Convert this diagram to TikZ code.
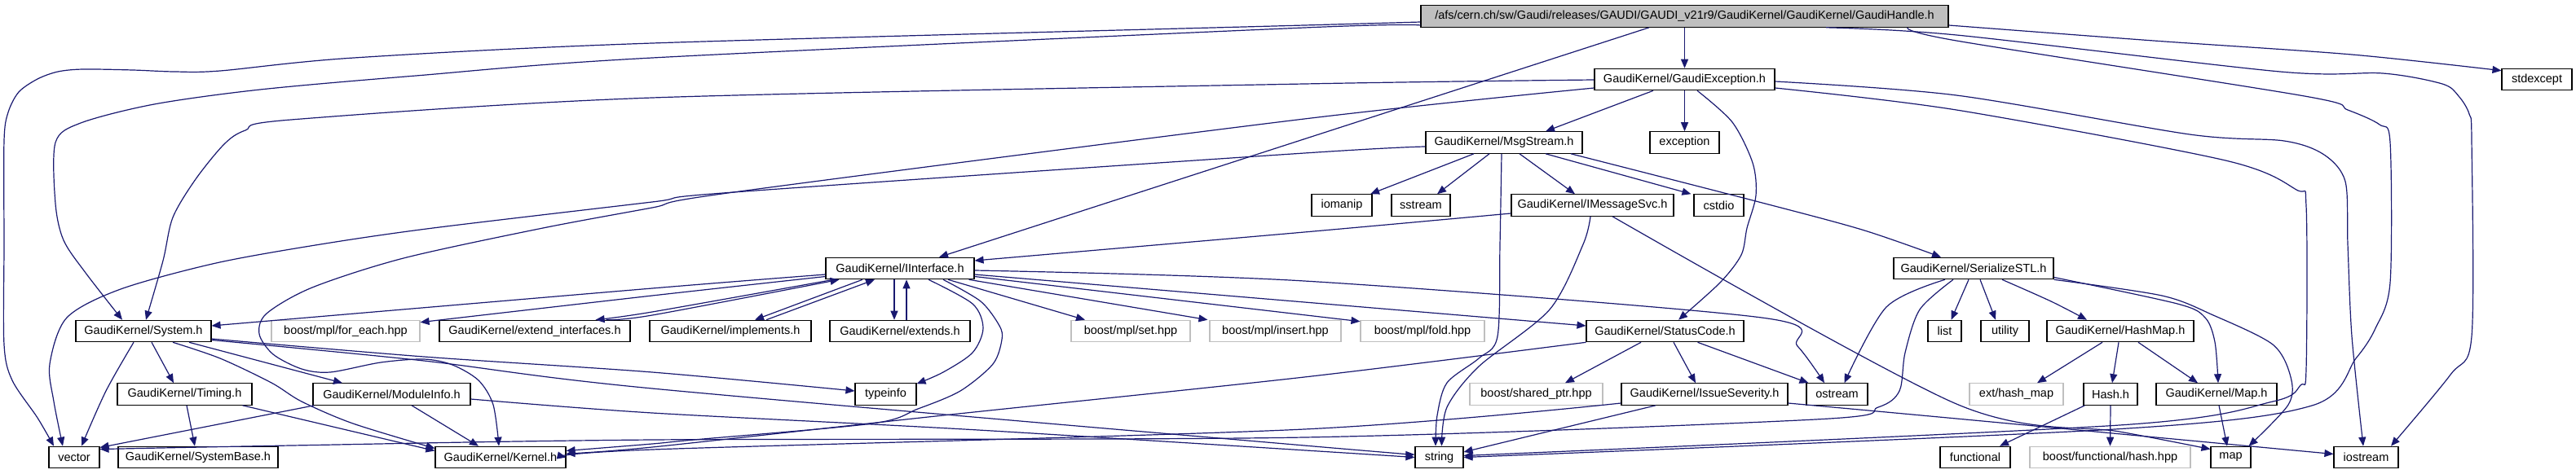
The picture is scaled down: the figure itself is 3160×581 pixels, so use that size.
\documentclass[tikz,border=0pt]{standalone}
\usepackage{fontspec}
\setmainfont{Liberation Sans}
\usetikzlibrary{arrows.meta,calc}
\definecolor{edgeblue}{HTML}{191970}
\definecolor{rootgray}{HTML}{BFBFBF}
\definecolor{lightborder}{HTML}{BFBFBF}
\newcommand\nodefont{\fontsize{14.5}{17}\selectfont}
\newcommand\edgeplot[1]{\draw[edge] plot[smooth,tension=0.5] coordinates {#1};}
\tikzset{
  box/.style={draw=black, line width=1.1pt, fill=white, inner sep=0pt, minimum height=26.5pt, font=\nodefont},
  gbox/.style={box, draw=lightborder},
  rootbox/.style={box, fill=rootgray},
  edge/.style={draw=edgeblue, line width=1.2pt, -{Triangle[length=11pt,width=9pt]}},
}
\begin{document}
\begin{tikzpicture}[x=1pt,y=-1pt]
\useasboundingbox (0,0) rectangle (3160,581);
% row 0
\node[rootbox, minimum width=647pt] (root) at (2066.5,20) {/afs/cern.ch/sw/Gaudi/releases/GAUDI/GAUDI\_v21r9/GaudiKernel/GaudiKernel/GaudiHandle.h};
% row 1
\node[box, minimum width=221pt] (gexc) at (2066.5,97.5) {GaudiKernel/GaudiException.h};
\node[box, minimum width=86pt] (stdexcept) at (3112,97.5) {stdexcept};
% row 2
\node[box, minimum width=192pt] (msg) at (1845,175) {GaudiKernel/MsgStream.h};
\node[box, minimum width=85pt] (exception) at (2066.5,175) {exception};
% row 3
\node[box, minimum width=74pt] (iomanip) at (1646,252) {iomanip};
\node[box, minimum width=72pt] (sstream) at (1743,252) {sstream};
\node[box, minimum width=199pt] (imsg) at (1953.5,252) {GaudiKernel/IMessageSvc.h};
\node[box, minimum width=61pt] (cstdio) at (2108.5,252) {cstdio};
% row 4
\node[box, minimum width=182pt] (iint) at (1104,329.5) {GaudiKernel/IInterface.h};
\node[box, minimum width=196pt] (ser) at (2421,329.5) {GaudiKernel/SerializeSTL.h};
% row 5
\node[box, minimum width=166pt] (sys) at (176,406.5) {GaudiKernel/System.h};
\node[gbox, minimum width=182pt] (foreach) at (424,406.5) {boost/mpl/for\_each.hpp};
\node[box, minimum width=234pt] (extif) at (656,406.5) {GaudiKernel/extend\_interfaces.h};
\node[box, minimum width=198pt] (impl) at (896,406.5) {GaudiKernel/implements.h};
\node[box, minimum width=172pt] (extends) at (1104,406.5) {GaudiKernel/extends.h};
\node[gbox, minimum width=146pt] (set) at (1387,406.5) {boost/mpl/set.hpp};
\node[gbox, minimum width=161pt] (insert) at (1564.5,406.5) {boost/mpl/insert.hpp};
\node[gbox, minimum width=152pt] (fold) at (1745,406.5) {boost/mpl/fold.hpp};
\node[box, minimum width=193pt] (sc) at (2042.5,406.5) {GaudiKernel/StatusCode.h};
\node[box, minimum width=41pt] (list) at (2385.5,406.5) {list};
\node[box, minimum width=59pt] (utility) at (2459.5,406.5) {utility};
\node[box, minimum width=180pt] (hashmap) at (2601,406.5) {GaudiKernel/HashMap.h};
% row 6
\node[box, minimum width=165pt] (timing) at (226.5,484) {GaudiKernel/Timing.h};
\node[box, minimum width=193pt] (modinfo) at (480.5,484) {GaudiKernel/ModuleInfo.h};
\node[box, minimum width=75pt] (typeinfo) at (1086.5,484) {typeinfo};
\node[gbox, minimum width=163pt] (sharedptr) at (1884.5,484) {boost/shared\_ptr.hpp};
\node[box, minimum width=204pt] (issue) at (2091,484) {GaudiKernel/IssueSeverity.h};
\node[box, minimum width=75pt] (ostream) at (2253.5,484) {ostream};
\node[gbox, minimum width=115pt] (exthm) at (2473.5,484) {ext/hash\_map};
\node[box, minimum width=66pt] (hash) at (2589,484) {Hash.h};
\node[box, minimum width=148pt] (mapH) at (2719,484) {GaudiKernel/Map.h};
% row 7
\node[box, minimum width=62pt] (vector) at (91,561.5) {vector};
\node[box, minimum width=196pt] (sysbase) at (243,561.5) {GaudiKernel/SystemBase.h};
\node[box, minimum width=160pt] (kernel) at (614,561.5) {GaudiKernel/Kernel.h};
\node[box, minimum width=59pt] (string) at (1765.5,561.5) {string};
\node[box, minimum width=86pt] (functional) at (2423,561.5) {functional};
\node[gbox, minimum width=197pt] (bfhash) at (2588.5,561.5) {boost/functional/hash.hpp};
\node[box, minimum width=49pt] (map) at (2736.5,561.5) {map};
\node[box, minimum width=79pt] (iostream) at (2902.5,561.5) {iostream};

% ---- edges from GaudiHandle.h
\draw[edge] (root.south) -- (gexc.north);
\edgeplot{($(root.east)+(0,11)$) (2642,50) (2885,67) ($(stdexcept.north west)+(0,3)$)}
\draw[edge] ($(root.south)+(-43.5,0)$) -- ($(iint.north)+(48,0)$);
\edgeplot{($(root.west)+(0,7)$) (1600,31) (800,53) (434,71) (270,87) (214,88) (163,86) (102,85) (71,88) (46,97) (23,113) (10,138) (5,173) (5,300) (5,423) (15,467) (46,513) ($(vector.north)+(-25,0)$)}
\edgeplot{($(root.west)+(0,11)$) (1600,34) (800,71) (510,93) (319,110) (189,128) (99,151) (68,175) (68,250) (78,295) (105,335) ($(sys.north)+(-26,0)$)}
\edgeplot{($(root.south)+(173.5,0)$) (2400,43) (2797,88) (2923,90) (2996,103) (3016,118) (3029,140) (3032,173) (3032,413) (3006,460) ($(iostream.north)+(30.5,0)$)}
\edgeplot{($(root.south)+(273.5,0)$) (2400,50) (2827,118) (2880,135) (2919,153) (2932,175) (2932,347) (2914,403) (2890,440) (2836,498) (2594,527) (string.east)}
% ---- edges from GaudiException.h
\edgeplot{($(gexc.west)+(0,0.5)$) (1600,103) (800,120) (357,147) (301,160) (275,177) (240,220) (212,267) (200,320) ($(sys.north)+(3,0)$)}
\edgeplot{($(gexc.west)+(0,10.5)$) (1600,146) (900,236) (800,255) (666,280) (495,317) (383,353) (327,385) (318,410) (335,435) (370,453) (405,457) (467,445) (520,441) (555,448) (587,467) (605,497) ($(kernel.north)+(-2,0)$)}
\edgeplot{($(gexc.east)+(0,2.5)$) (2400,117) (2686,165) (2802,173) (2851,190) (2877,223) (2880,300) (2885,413) ($(iostream.north)+(-3.5,0)$)}
\edgeplot{($(gexc.east)+(0,10.5)$) (2400,135) (2730,197) (2817,233) (2829,253) (2829,453) (2822,473) (2788,493) (2600,522) ($(string.east)+(0,-2)$)}
\draw[edge] ($(gexc.south)+(-38.5,0)$) -- ($(msg.north)+(51,0)$);
\draw[edge] (gexc.south) -- (exception.north);
\edgeplot{($(gexc.south)+(15.5,0)$) (2125,150) (2150,200) (2154,240) (2143,280) (2136,313) (2110,347) ($(sc.north)+(16.5,0)$)}
% ---- edges from MsgStream.h
\edgeplot{($(msg.west)+(0,5)$) (1600,188) (900,236) (800,248) (531,280) (393,300) (265,323) (148,355) (82,390) (61,447) (66,493) ($(vector.north)+(-14,0)$)}
\draw[edge] ($(msg.south)+(-37,0)$) -- ($(iomanip.north)+(35,0)$);
\draw[edge] ($(msg.south)+(-18,0)$) -- ($(sstream.north)+(20,0)$);
\edgeplot{($(msg.south)+(-3,0)$) (1840,300) (1837,413) (1814,440) (1775,470) (1763,510) ($(string.north)+(-4.5,0)$)}
\draw[edge] ($(msg.south)+(19,0)$) -- ($(imsg.north)+(-21.5,0)$);
\draw[edge] ($(msg.south)+(51,0)$) -- ($(cstdio.north west)+(-3,0)$);
\edgeplot{($(msg.south)+(82,0)$) (2150,246) (2284,282) ($(ser.north)+(-40,0)$)}
% ---- edges from IMessageSvc.h
\edgeplot{($(imsg.west)+(0,10)$) (1600,285) ($(iint.east)+(0,-9.5)$)}
\edgeplot{($(imsg.south)+(-2.5,0)$) (1942,300) (1901,380) (1814,450) (1775,500) ($(string.north)+(3,0)$)}
\edgeplot{($(imsg.south)+(24.5,0)$) (2400,496) (2600,530) ($(map.west)+(0,-10)$)}
% ---- edges from IInterface.h
\edgeplot{($(iint.west)+(0,7.5)$) (800,354) ($(sys.east)+(0,-6.5)$)}
\edgeplot{($(iint.west)+(0,10)$) (800,363) ($(foreach.north east)+(0,3)$)}
\edgeplot{($(iint.south west)+(10,0)$) (800,383) ($(extif.north east)+(-43,0)$)}
\edgeplot{($(extif.north east)+(-30,0)$) (800,387) ($(iint.south west)+(17,0)$)}
\draw[edge] ($(iint.south)+(-46,0)$) -- ($(impl.north)+(30,0)$);
\draw[edge] ($(impl.north)+(44,0)$) -- ($(iint.south)+(-31,0)$);
\draw[edge] ($(iint.south)+(-7,0)$) -- ($(extends.north)+(-7,0)$);
\draw[edge] ($(extends.north)+(8,0)$) -- ($(iint.south)+(8,0)$);
\edgeplot{($(iint.south)+(35,0)$) (1193,373) (1206,403) (1193,433) (1157,457) ($(typeinfo.north east)+(0,1)$)}
\edgeplot{($(iint.south)+(53,0)$) (1203,370) (1226,400) (1229,417) (1218,447) (1178,480) (1126,502) (1070,520) (851,540) (800,545) ($(kernel.east)+(0,-8)$)}
\draw[edge] ($(iint.south)+(59,0)$) -- ($(set.north)+(-56,0)$);
\draw[edge] ($(iint.south east)+(-7,0)$) -- ($(insert.north west)+(-2,0)$);
\edgeplot{($(iint.east)+(0,2.5)$) (1600,345) (2161,390) (2205,425) ($(ostream.north)+(-15.5,0)$)}
\draw[edge] ($(iint.east)+(0,7.5)$) -- ($(sc.west)+(0,-6.5)$);
\draw[edge] ($(iint.east)+(0,10)$) -- ($(fold.north west)+(0,2)$);
% ---- edges from System.h
\edgeplot{($(sys.south)+(-12,0)$) (130,480) ($(vector.north)+(9,0)$)}
\draw[edge] ($(sys.south)+(10,0)$) -- ($(timing.north)+(-13.5,0)$);
\edgeplot{($(sys.south)+(36,0)$) (270,440) (333,470) (370,493) (433,520) ($(kernel.west)+(0,-11)$)}
\draw[edge] ($(sys.south)+(56,0)$) -- ($(modinfo.north)+(-60.5,0)$);
\edgeplot{($(sys.east)+(0,9.5)$) (520,438) (800,457) ($(typeinfo.west)+(0,-4)$)}
\edgeplot{($(sys.east)+(0,11)$) (520,443) (800,477) (1600,547) ($(string.west)+(0,-3.5)$)}
% ---- Timing.h, ModuleInfo.h
\draw[edge] ($(timing.south)+(2.5,0)$) -- ($(sysbase.north)+(-4,0)$);
\draw[edge] ($(timing.south east)+(-12,0)$) -- ($(kernel.west)+(0,-8)$);
\draw[edge] ($(modinfo.south west)+(2,0)$) -- ($(vector.east)+(0,-12)$);
\draw[edge] ($(modinfo.south)+(24.5,0)$) -- ($(kernel.north)+(-27,0)$);
\edgeplot{($(modinfo.east)+(0,6)$) (800,507) (1200,528) (string.west)}
% ---- StatusCode.h, IssueSeverity.h
\draw[edge] ($(sc.south)+(-29.5,0)$) -- ($(sharedptr.north)+(35.5,0)$);
\draw[edge] ($(sc.south)+(10.5,0)$) -- ($(issue.north)+(-11,0)$);
\draw[edge] ($(sc.south)+(40,0)$) -- ($(ostream.north west)+(3,0)$);
\edgeplot{(sc.south west) (1600,463) (1157,510) (800,549) ($(kernel.east)+(0,-4.5)$)}
\edgeplot{($(issue.west)+(0,11)$) (1600,527) (800,552) (kernel.east)}
\draw[edge] ($(issue.south)+(-60,0)$) -- ($(string.east)+(0,-6.5)$);
\edgeplot{($(issue.east)+(0,11)$) (2400,514) ($(iostream.west)+(0,-4)$)}
% ---- SerializeSTL.h
\draw[edge] ($(ser.south)+(-6,0)$) -- ($(list.north)+(8,0)$);
\draw[edge] ($(ser.south)+(8,0)$) -- ($(utility.north)+(-11.5,0)$);
\edgeplot{($(ser.south)+(35,0)$) (2516,370) ($(hashmap.north)+(-41,0)$)}
\edgeplot{($(ser.east)+(0,11)$) (2671,373) (2705,390) (2717,420) ($(mapH.north)+(2,0)$)}
\edgeplot{(ser.south east) (2652,363) (2715,387) (2788,423) (2810,463) (2807,497) ($(map.north east)+(-3,0)$)}
\edgeplot{($(ser.south)+(-35,0)$) (2314,377) ($(ostream.north)+(9,0)$)}
\edgeplot{($(ser.south)+(-25,0)$) (2355,380) (2337,433) (2330,480) (2304,500) (2227,515) (1600,537) (800,540) (357,547) ($(vector.east)+(0,-10)$)}
% ---- HashMap.h, Hash.h, Map.h
\draw[edge] ($(hashmap.south)+(-22,0)$) -- ($(exthm.north)+(25.5,0)$);
\draw[edge] ($(hashmap.south)+(-2,0)$) -- ($(hash.north)+(2,0)$);
\draw[edge] ($(hashmap.south)+(22,0)$) -- ($(mapH.north)+(-23,0)$);
\draw[edge] ($(hash.south west)+(2,0)$) -- ($(functional.north)+(30,0)$);
\draw[edge] (hash.south) -- (bfhash.north);
\draw[edge] ($(mapH.south)+(3,0)$) -- ($(map.north)+(-4.5,0)$);
\end{tikzpicture}
\end{document}
